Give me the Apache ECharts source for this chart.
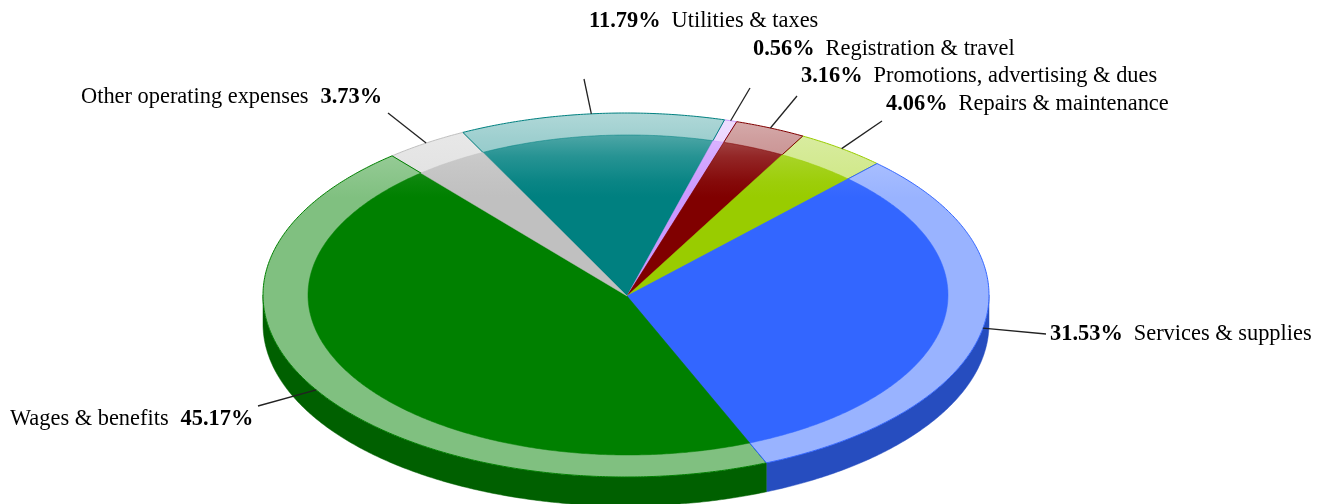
<!DOCTYPE html>
<html><head><meta charset="utf-8">
<style>html,body{margin:0;padding:0;background:#fff}#c{width:1331px;height:504px}</style>
<script src="https://cdn.jsdelivr.net/npm/echarts@6/dist/echarts.min.js"></script>
</head><body><div id="c"></div>
<script>
// Data, clockwise from the top-left edge of the first slice
var categories = ['Utilities & taxes','Registration & travel','Promotions, advertising & dues','Repairs & maintenance','Services & supplies','Wages & benefits','Other operating expenses'];
var percents = [11.79,0.56,3.16,4.06,31.53,45.17,3.73];

// Styling and layout, separate from the data
var colors = ['#008080','#cc99ff','#800000','#99cc00','#3366ff','#008000','#c0c0c0'];
var rimRank = [2,1,3,0,4,1,0];
var nameFirst = [false,false,false,false,false,true,true];
var leaderEnds = [[584,79],[750,88],[797,96],[882,121],[1046,334],[258,406],[388,113]];
var labelAnchors = [[589,21],[753,49],[801,76],[886,104],[1050,334],[10,419],[81,97]];
var startDeg = -26.7, CX = 626, CY = 295, OUTER = [363,182], INNER = [320,160], INNER_CX = 628, DEPTH = 29, APEX = [627,296];
var FONT = '"Liberation Serif","Times New Roman",serif';

function rgb(h){return [1,3,5].map(function(i){return parseInt(h.substr(i,2),16);});}
function mix(h,t,k){var c=rgb(h);return 'rgb('+c.map(function(v){return Math.round(v+(t-v)*k);}).join(',')+')';}
function scale(h,k){var c=rgb(h);return 'rgb('+c.map(function(v){return Math.round(v*k);}).join(',')+')';}
function sliceRange(idx){
  var s=0;for(var i=0;i<idx;i++)s+=percents[i];
  return [startDeg+s*3.6,startDeg+(s+percents[idx])*3.6];
}
function pt(deg,r,dy,cx){var a=deg*Math.PI/180;return [(cx||CX)+r[0]*Math.sin(a),CY-r[1]*Math.cos(a)+(dy||0)];}
function arc(a,b,r,dy,cx){var n=Math.max(2,Math.ceil(Math.abs(b-a)*2)),p=[];for(var i=0;i<=n;i++)p.push(pt(a+(b-a)*i/n,r,dy,cx));return p;}
// Parameter angle on the inner ellipse of the ray from the apex through an outer-rim point
function innerDeg(deg){
  var o=pt(deg,OUTER),dx=o[0]-APEX[0],dy=o[1]-APEX[1];
  var px=(APEX[0]-INNER_CX)/INNER[0],py=(APEX[1]-CY)/INNER[1],qx=dx/INNER[0],qy=dy/INNER[1];
  var A=qx*qx+qy*qy,B=2*(px*qx+py*qy),C=px*px+py*py-1,t=(-B+Math.sqrt(B*B-4*A*C))/(2*A);
  var d=Math.atan2(px+t*qx,-(py+t*qy))*180/Math.PI;
  while(d<deg-180)d+=360;while(d>deg+180)d-=360;
  return d;
}

function renderSide(params,api){
  var i=params.dataIndex,g=[],r=sliceRange(i),k=[r,[r[0]+360,r[1]+360]];
  k.forEach(function(rg){
    var a=Math.max(rg[0],90),b=Math.min(rg[1],270);
    if(b>a){
      var top=arc(a,b,OUTER,0),bot=arc(b,a,OUTER,DEPTH);
      g.push({type:'polygon',shape:{points:top.concat(bot)},style:{fill:scale(colors[i],0.75),stroke:scale(colors[i],0.75),lineWidth:0.5}});
    }
  });
  return {type:'group',children:g};
}
function renderTop(params,api){
  var i=params.dataIndex,rg=sliceRange(i),c=colors[i];
  var rimTop=CY-OUTER[1];
  var rimGrad=new echarts.graphic.LinearGradient(0,rimTop,0,rimTop+85,[
    {offset:0,color:mix(c,255,0.69)},{offset:0.3,color:mix(c,255,0.62)},{offset:1,color:mix(c,255,0.5)}],true);
  var innerTop=CY-INNER[1];
  var grad=new echarts.graphic.LinearGradient(0,innerTop,0,innerTop+62,[
    {offset:0,color:mix(c,255,0.3)},{offset:0.35,color:mix(c,255,0.15)},{offset:0.75,color:mix(c,255,0.04)},{offset:1,color:c}],true);
  var ia=innerDeg(rg[0]),ib=innerDeg(rg[1]);
  return {type:'group',children:[
    {type:'polygon',z2:rimRank[i],shape:{points:[APEX].concat(arc(rg[0],rg[1],OUTER))},style:{fill:rimGrad,stroke:c,lineWidth:1}},
    {type:'polygon',z2:10,shape:{points:[APEX].concat(arc(ia,ib,INNER,0,INNER_CX))},style:{fill:grad,stroke:c,lineWidth:0.5}}
  ]};
}
function renderLabel(params,api){
  var i=params.dataIndex,rg=sliceRange(i),mid=(rg[0]+rg[1])/2,start=pt(mid,OUTER);
  var val=api.value(0).toFixed(2)+'%',name=categories[i];
  var txt=nameFirst[i]?'{n|'+name+'}{g| }{b|'+val+'}':'{b|'+val+'}{s| }{n|'+name+'}';
  return {type:'group',children:[
    {type:'line',shape:{x1:start[0],y1:start[1],x2:leaderEnds[i][0],y2:leaderEnds[i][1]},style:{stroke:'#222',lineWidth:1.3}},
    {type:'text',style:{x:labelAnchors[i][0],y:labelAnchors[i][1],text:txt,verticalAlign:'middle',align:'left',
      fill:'#000',font:'22px '+FONT,
      rich:{b:{font:'bold 22.4px '+FONT,fill:'#000'},n:{font:'22.4px '+FONT,fill:'#000'},s:{font:'22px '+FONT,width:11},g:{font:'22px '+FONT,width:12}}}}
  ]};
}
var chart=echarts.init(document.getElementById('c'),null,{renderer:'canvas'});
chart.setOption({
  animation:false,backgroundColor:'#fff',
  series:[
    {type:'custom',coordinateSystem:'none',silent:true,data:percents,renderItem:renderSide,z:1},
    {type:'custom',coordinateSystem:'none',silent:true,data:percents,renderItem:renderTop,z:2},
    {type:'custom',coordinateSystem:'none',silent:true,data:percents,renderItem:renderLabel,z:3}
  ]
});
</script></body></html>
